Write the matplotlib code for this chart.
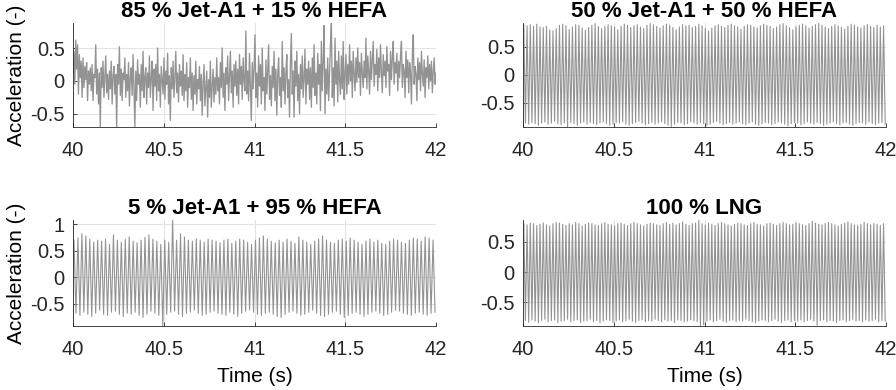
import numpy as np
import matplotlib
matplotlib.use('Agg')
import matplotlib.pyplot as plt
from matplotlib.ticker import FormatStrFormatter

# ── Style ─────────────────────────────────────────────────────────────
plt.rcParams.update({
    'font.family': ['Liberation Sans', 'DejaVu Sans'],
    'font.size': 14.5,
    'axes.unicode_minus': False,
    'axes.edgecolor': '#262626',
    'axes.linewidth': 0.6,
    'xtick.color': '#262626', 'ytick.color': '#262626',
    'xtick.direction': 'in', 'ytick.direction': 'in',
    'xtick.major.size': 3, 'ytick.major.size': 3,
    'xtick.major.width': 0.6, 'ytick.major.width': 0.6,
})

LINE_COLOR = '#939393'
GRID_COLOR = '#e3e3e3'

T_START, T_END = 40.0, 42.0
X_TICKS = [40, 40.5, 41, 41.5, 42]

# ── Data ──────────────────────────────────────────────────────────────
# 85 % Jet-A1 + 15 % HEFA : broadband signal, samples read every 5 ms
tl_signal = [
    0.12, 0.45, -0.05, 0.62, 0.18, 0.55, -0.20, 0.40, 0.05, 0.30, -0.25, 0.35, -0.10, 0.22, 0.02, 0.28, -0.30, 0.15, -0.05, 0.20,
    -0.15, 0.25, -0.30, 0.10, 0.05, 0.55, -0.20, 0.18, -0.35, 0.12, -0.70, 0.20, -0.10, 0.30, -0.25, 0.05, 0.38, -0.18, 0.10, -0.28,
    0.15, -0.12, 0.30, -0.35, 0.08, 0.22, -0.20, 0.10, -0.70, 0.25, -0.05, 0.52, -0.22, 0.18, -0.30, 0.12, 0.02, 0.35, -0.25, 0.10,
    -0.15, 0.28, -0.38, 0.05, 0.20, -0.22, 0.40, -0.10, -0.70, 0.15, -0.30, 0.32, -0.05, 0.10, -0.40, 0.25, -0.15, 0.45, -0.25, 0.05,
    0.20, -0.35, 0.12, -0.10, 0.38, -0.25, 0.05, 0.30, -0.45, 0.18, -0.08, 0.25, -0.30, 0.50, -0.15, 0.10, -0.40, 0.22, 0.00, -0.20,
    0.35, -0.28, 0.15, -0.05, 0.42, -0.35, 0.08, -0.60, 0.20, -0.12, 0.30, -0.25, 0.05, 0.45, -0.18, 0.12, -0.32, 0.25, -0.08, 0.15,
    -0.22, 0.40, -0.30, 0.10, -0.15, 0.28, -0.40, 0.05, -0.10, 0.35, -0.28, 0.12, -0.45, 0.08, -0.20, 0.30, -0.35, 0.02, -0.12, 0.22,
    -0.30, 0.10, -0.52, -0.05, 0.25, -0.38, -0.12, 0.15, -0.55, 0.02, -0.25, 0.30, -0.40, -0.08, 0.18, -0.32, 0.05, -0.20, 0.35, -0.15,
    0.05, -0.35, 0.28, -0.10, 0.50, -0.25, 0.12, -0.45, 0.20, -0.05, 0.38, -0.30, 0.08, 0.45, -0.18, 0.15, -0.40, 0.25, -0.08, 0.30,
    -0.22, 0.18, -0.35, 0.40, -0.05, 0.22, -0.28, 0.35, 0.00, -0.15, 0.76, -0.20, 0.15, -0.30, 0.42, -0.10, -0.60, 0.28, -0.12, 0.20,
    0.70, -0.25, 0.12, -0.40, 0.38, -0.08, 0.25, -0.35, 0.50, -0.15, 0.05, -0.45, 0.32, -0.20, 0.15, 0.55, -0.28, 0.08, -0.38, 0.22,
    -0.10, 0.45, -0.30, 0.18, -0.52, 0.10, 0.35, -0.22, 0.05, -0.40, 0.60, -0.15, 0.20, -0.35, 0.12, 0.40, -0.25, 0.02, -0.55, 0.28,
    0.72, -0.20, 0.15, -0.55, 0.30, -0.08, 0.45, -0.30, 0.10, -0.50, 0.25, -0.12, 0.38, -0.25, 0.05, 0.48, -0.35, 0.18, -0.05, 0.30,
    -0.28, 0.20, -0.40, 0.35, -0.10, 0.55, -0.22, 0.12, -0.35, 0.42, -0.05, 0.25, -0.45, 0.60, -0.15, 0.30, 0.84, -0.50, 0.18, -0.20,
    0.35, -0.30, 0.15, 0.55, 0.88, -0.25, 0.20, -0.38, 0.65, -0.05, 0.30, -0.32, 0.45, 0.02, -0.20, 0.38, -0.12, 0.60, -0.28, 0.10,
    0.40, -0.20, 0.25, -0.05, 0.55, 0.00, 0.30, -0.25, 0.45, 0.10, -0.15, 0.35, -0.02, 0.50, 0.05, 0.28, -0.22, 0.42, 0.12, -0.10,
    0.30, 0.05, 0.65, -0.12, 0.38, 0.15, -0.20, 0.45, 0.02, 0.32, 0.60, -0.08, 0.25, 0.10, 0.48, -0.15, 0.35, 0.05, 0.55, 0.12,
    -0.18, 0.40, 0.08, 0.30, -0.10, 0.52, 0.15, 0.25, -0.22, 0.45, 0.02, 0.35, 0.60, -0.05, 0.28, 0.12, 0.42, -0.15, 0.30, 0.05,
    0.38, 0.60, -0.10, 0.25, 0.15, -0.25, 0.45, 0.05, 0.32, -0.18, 0.28, 0.12, -0.35, 0.40, 0.70, -0.05, 0.22, 0.10, -0.30, 0.35,
    0.02, 0.28, -0.15, 0.45, 0.10, -0.08, 0.32, -0.25, 0.20, 0.05, 0.38, -0.12, 0.25, 0.00, 0.30, -0.18, 0.15, 0.35, -0.05, 0.12,
]

# 50 % Jet-A1 + 50 % HEFA : cycle maxima / minima
tr_hi = [
    0.88, 0.87, 0.89, 0.86, 0.90, 0.85, 0.84, 0.86, 0.80, 0.78, 0.82, 0.88, 0.90, 0.87,
    0.80, 0.85, 0.89, 0.88, 0.83, 0.79, 0.84, 0.88, 0.91, 0.86, 0.82, 0.86, 0.89, 0.87,
    0.85, 0.80, 0.86, 0.90, 0.88, 0.84, 0.87, 0.89, 0.85, 0.82, 0.88, 0.91, 0.89, 0.86,
    0.83, 0.87, 0.90, 0.88, 0.84, 0.80, 0.85, 0.89, 0.87, 0.88, 0.84, 0.86, 0.90, 0.87,
    0.82, 0.78, 0.83, 0.87, 0.89, 0.86, 0.84, 0.88, 0.90, 0.87, 0.85, 0.81, 0.86, 0.89,
    0.88, 0.85, 0.83, 0.87, 0.90, 0.88, 0.86, 0.82, 0.85, 0.89, 0.91, 0.87, 0.84, 0.80,
    0.85, 0.88, 0.90, 0.87, 0.83, 0.86, 0.89, 0.92, 0.88, 0.85, 0.82, 0.86, 0.89, 0.87,
    0.84, 0.81, 0.86, 0.90, 0.88, 0.85, 0.83, 0.87, 0.89, 0.86, 0.84, 0.88, 0.85, 0.87,
]
tr_lo = [
    -0.86, -0.88, -0.85, -0.87, -0.90, -0.86, -0.84, -0.88, -0.86, -0.83, -0.87, -0.89, -0.86, -0.93,
    -0.85, -0.87, -0.90, -0.86, -0.84, -0.88, -0.85, -0.87, -0.89, -0.86, -0.84, -0.87, -0.90, -0.88,
    -0.85, -0.86, -0.84, -0.88, -0.90, -0.87, -0.85, -0.83, -0.86, -0.89, -0.87, -0.85, -0.88, -0.86,
    -0.84, -0.87, -0.90, -0.92, -0.88, -0.85, -0.86, -0.89, -0.87, -0.84, -0.86, -0.88, -0.85, -0.87,
    -0.90, -0.88, -0.85, -0.83, -0.86, -0.89, -0.87, -0.85, -0.88, -0.86, -0.84, -0.87, -0.89, -0.86,
    -0.84, -0.88, -0.90, -0.87, -0.85, -0.86, -0.89, -0.87, -0.84, -0.86, -0.88, -0.91, -0.87, -0.85,
    -0.86, -0.89, -0.87, -0.84, -0.86, -0.88, -0.85, -0.87, -0.90, -0.88, -0.86, -0.84, -0.87, -0.89,
    -0.86, -0.85, -0.88, -0.90, -0.87, -0.85, -0.86, -0.88, -0.84, -0.87, -0.89, -0.86, -0.85, -0.88,
]

# 5 % Jet-A1 + 95 % HEFA : cycle maxima / minima
bl_hi = [
    0.70, 0.74, 0.82, 0.78, 0.72, 0.66, 0.70, 0.68, 0.72, 0.62, 0.80, 0.70,
    0.66, 0.72, 0.76, 0.68, 0.65, 0.70, 0.75, 0.80, 0.72, 0.68, 0.62, 0.70, 0.66, 1.08,
    0.70, 0.82, 0.76, 0.70, 0.68, 0.72, 0.70, 0.66, 0.72, 0.70, 0.68, 0.65,
    0.70, 0.72, 0.64, 0.68, 0.72, 0.70, 0.66, 0.62, 0.70, 0.74, 0.78, 0.72,
    0.68, 0.65, 0.70, 0.66, 0.72, 0.68, 0.64, 0.76, 0.70, 0.66, 0.62, 0.68,
    0.72, 0.78, 0.70, 0.66, 0.64, 0.70, 0.72, 0.68, 0.74, 0.70, 0.66, 0.62,
    0.68, 0.72, 0.66, 0.70, 0.64, 0.62, 0.68, 0.72, 0.70, 0.66, 0.64, 0.70,
    0.74, 0.72, 0.68, 0.76, 0.74, 0.70,
]
bl_lo = [
    -0.68, -0.72, -0.66, -0.70, -0.74, -0.68, -0.62, -0.70, -0.72, -0.66, -0.64, -0.70,
    -0.74, -0.68, -0.70, -0.66, -0.72, -0.76, -0.70, -0.64, -0.68, -0.72, -0.92, -0.70, -0.66, -0.64,
    -0.70, -0.74, -0.68, -0.66, -0.62, -0.68, -0.72, -0.70, -0.66, -0.64, -0.68, -0.70,
    -0.72, -0.66, -0.70, -0.74, -0.68, -0.64, -0.62, -0.66, -0.70, -0.72, -0.68, -0.66,
    -0.70, -0.74, -0.76, -0.70, -0.66, -0.64, -0.68, -0.72, -0.70, -0.66, -0.62, -0.68,
    -0.72, -0.74, -0.70, -0.66, -0.64, -0.70, -0.76, -0.72, -0.68, -0.66, -0.70, -0.74,
    -0.70, -0.66, -0.64, -0.68, -0.72, -0.70, -0.66, -0.62, -0.64, -0.68, -0.70, -0.72,
    -0.68, -0.66, -0.70, -0.72, -0.68, -0.66,
]

# 100 % LNG : cycle maxima / minima
br_hi = [
    0.80, 0.78, 0.81, 0.80, 0.77, 0.79, 0.81, 0.78, 0.76, 0.80, 0.82, 0.81, 0.79, 0.77,
    0.80, 0.78, 0.82, 0.80, 0.76, 0.79, 0.81, 0.80, 0.78, 0.77, 0.80, 0.82, 0.79, 0.78,
    0.76, 0.80, 0.81, 0.79, 0.77, 0.80, 0.82, 0.80, 0.78, 0.76, 0.79, 0.81, 0.80, 0.78,
    0.77, 0.80, 0.82, 0.79, 0.81, 0.78, 0.80, 0.83, 0.79, 0.77, 0.80, 0.81, 0.86, 0.80,
    0.78, 0.81, 0.79, 0.77, 0.80, 0.82, 0.80, 0.78, 0.76, 0.79, 0.81, 0.80, 0.78, 0.77,
    0.80, 0.82, 0.79, 0.78, 0.76, 0.80, 0.81, 0.79, 0.77, 0.80, 0.82, 0.80, 0.78, 0.79,
    0.81, 0.80, 0.78, 0.77, 0.80, 0.84, 0.81, 0.79, 0.78, 0.80, 0.82, 0.80, 0.78, 0.76,
    0.79, 0.81, 0.83, 0.80, 0.78, 0.77, 0.79, 0.82, 0.80, 0.78, 0.80, 0.79, 0.77, 0.80,
]
br_lo = [
    -0.80, -0.83, -0.79, -0.81, -0.84, -0.80, -0.78, -0.82, -0.80, -0.79, -0.83, -0.81, -0.80, -0.78,
    -0.82, -0.80, -0.79, -0.83, -0.81, -0.80, -0.78, -0.82, -0.80, -0.84, -0.81, -0.79, -0.80, -0.83,
    -0.81, -0.79, -0.82, -0.80, -0.78, -0.81, -0.83, -0.80, -0.79, -0.82, -0.80, -0.81, -0.78, -0.80,
    -0.82, -0.79, -0.81, -0.80, -0.83, -0.79, -0.80, -0.82, -0.81, -0.79, -0.80, -0.82, -0.89, -0.87,
    -0.81, -0.79, -0.82, -0.80, -0.78, -0.81, -0.83, -0.80, -0.79, -0.82, -0.80, -0.81, -0.78, -0.80,
    -0.82, -0.84, -0.81, -0.79, -0.80, -0.82, -0.80, -0.78, -0.81, -0.83, -0.80, -0.79, -0.82, -0.80,
    -0.81, -0.79, -0.82, -0.80, -0.78, -0.81, -0.88, -0.80, -0.79, -0.82, -0.80, -0.81, -0.83, -0.80,
    -0.79, -0.82, -0.80, -0.78, -0.81, -0.80, -0.82, -0.79, -0.81, -0.80, -0.78, -0.82, -0.80, -0.81,
]

titles = ['85 % Jet-A1 + 15 % HEFA', '50 % Jet-A1 + 50 % HEFA',
          '5 % Jet-A1 + 95 % HEFA', '100 % LNG']


def sampled(values):
    v = np.asarray(values)
    t = np.linspace(T_START, T_END, len(v))
    return t, v


def cycles(hi, lo):
    n = min(len(hi), len(lo))
    v = np.empty(2 * n)
    v[0::2] = hi[:n]
    v[1::2] = lo[:n]
    period = (T_END - T_START) / n
    t = T_START + (np.arange(2 * n) * 0.5 + 0.25) * period
    return t, v


series = [sampled(tl_signal), cycles(tr_hi, tr_lo),
          cycles(bl_hi, bl_lo), cycles(br_hi, br_lo)]
widths = [0.95, 0.8, 0.8, 0.8]

# ── Figure ────────────────────────────────────────────────────────────
W, H = 896, 390
fig = plt.figure(figsize=(W / 100, H / 100), dpi=100)

# axes boxes in pixels: left, top, right, bottom
boxes = [(73, 23, 436, 127), (523, 23, 886, 127),
         (73, 220, 436, 326), (523, 220, 886, 326)]
yticks = [[-0.5, 0, 0.5], [-0.5, 0, 0.5], [-0.5, 0, 0.5, 1], [-0.5, 0, 0.5]]

for k, ((l, t, r, b), (tt, vv)) in enumerate(zip(boxes, series)):
    ax = fig.add_axes([l / W, 1 - b / H, (r - l) / W, (b - t) / H])
    ax.plot(tt, vv, color=LINE_COLOR, linewidth=widths[k])
    ax.set_xlim(T_START, T_END)
    ax.set_ylim(vv.min(), vv.max())
    ax.set_xticks(X_TICKS)
    ax.set_yticks(yticks[k])
    ax.xaxis.set_major_formatter(FormatStrFormatter('%g'))
    ax.yaxis.set_major_formatter(FormatStrFormatter('%g'))
    ax.tick_params(axis='x', pad=10, labelsize=14.5)
    ax.tick_params(axis='y', pad=6, labelsize=14.5)
    ax.grid(True, color=GRID_COLOR, linewidth=0.8)
    ax.set_axisbelow(True)
    for side in ('top', 'right'):
        ax.spines[side].set_visible(False)
    ax.set_title(titles[k], fontweight='bold', fontsize=16, pad=4)
    if k in (0, 2):
        ax.set_ylabel('Acceleration (-)', fontsize=15, labelpad=3)
    if k in (2, 3):
        ax.set_xlabel('Time (s)', fontsize=15, labelpad=6)

fig.savefig('out.png', dpi=100)
